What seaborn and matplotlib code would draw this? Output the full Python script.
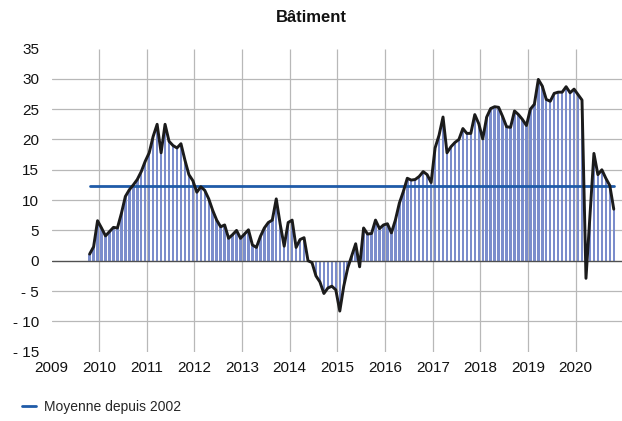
import numpy as np
import pandas as pd
import matplotlib
matplotlib.use("Agg")
import matplotlib.pyplot as plt
import seaborn as sns

# ── Data ─────────────────────────────────────────────────────────────────────
START_YEAR = 2009.80          # first monthly observation, in fractional years
BATIMENT = [
    1.1, 2.3, 6.6, 5.4, 4.1, 4.8, 5.5, 5.4, 7.8, 10.6, 11.7, 12.5,
    13.4, 14.7, 16.4, 17.8, 20.5, 22.5, 17.8, 22.5, 19.7, 19.0, 18.6, 19.3,
    16.6, 14.2, 13.2, 11.3, 12.2, 11.6, 10.2, 8.3, 6.7, 5.6, 5.9, 3.7,
    4.3, 5.0, 3.7, 4.4, 5.1, 2.6, 2.2, 4.0, 5.4, 6.3, 6.7, 10.2,
    6.0, 2.4, 6.3, 6.7, 2.2, 3.5, 3.8, 0.0, -0.3, -2.5, -3.5, -5.4,
    -4.5, -4.2, -4.8, -8.3, -4.2, -1.2, 0.8, 2.8, -1.0, 5.4, 4.4, 4.5,
    6.7, 5.3, 5.9, 6.1, 4.6, 6.7, 9.5, 11.4, 13.6, 13.3, 13.4, 13.9,
    14.7, 14.2, 12.9, 18.6, 20.7, 23.7, 17.8, 18.8, 19.5, 20.0, 21.8, 21.0,
    21.0, 24.1, 22.6, 20.1, 23.7, 25.1, 25.4, 25.3, 23.8, 22.1, 22.0, 24.7,
    24.1, 23.3, 22.3, 25.0, 25.8, 29.9, 28.8, 26.6, 26.3, 27.6, 27.8, 27.8,
    28.7, 27.7, 28.3, 27.4, 26.5, -2.9, 7.4, 17.7, 14.2, 15.0, 13.6, 12.4,
    8.5,
]
MOYENNE = 12.3                # moyenne depuis 2002
YEARS = list(range(2009, 2021))
Y_TICKS = [35, 30, 25, 20, 15, 10, 5, 0, -5, -10, -15]
Y_LABELS = ["35", "30", "25", "20", "15", "10", "5", "0", "- 5", "- 10", "- 15"]

TITLE = "Bâtiment"
LEGEND_LABEL = "Moyenne depuis 2002"

# ── Frame ────────────────────────────────────────────────────────────────────
df = pd.DataFrame({"t": START_YEAR + np.arange(len(BATIMENT)) / 12.0,
                   "val": BATIMENT})

sns.set_theme(style="white")
plt.rcParams["font.family"] = ["Liberation Sans", "DejaVu Sans"]

BAR_COLOR  = "#7b8dcc"
LINE_COLOR = "#1b1b1b"
MEAN_COLOR = "#1f5ba8"
GRID_COLOR = "#b8b8b8"

fig = plt.figure(figsize=(6.22, 4.21), dpi=100)
ax = fig.add_axes([51.5 / 622, 1 - 351.7 / 421, (622 - 51.5) / 622, (351.7 - 48.5) / 421])

# grid
for yv in Y_TICKS[1:-1]:
    if yv != 0:
        ax.axhline(yv, color=GRID_COLOR, lw=0.9, zorder=0)
ax.vlines(YEARS[1:], Y_TICKS[-1], Y_TICKS[0], color=GRID_COLOR, lw=0.9, zorder=0)

# bars + line
sns.barplot(data=df, x="t", y="val", native_scale=True, width=0.62,
            color=BAR_COLOR, saturation=1, edgecolor="none", linewidth=0,
            ax=ax, zorder=2)
ax.axhline(0, color="#505050", lw=1.0, zorder=3)
sns.lineplot(data=df, x="t", y="val", color=LINE_COLOR, lw=2.1, ax=ax, zorder=5)

# mean since 2002
mean_df = pd.DataFrame({"t": [df["t"].iloc[0], df["t"].iloc[-1]],
                        "val": [MOYENNE, MOYENNE]})
sns.lineplot(data=mean_df, x="t", y="val", color=MEAN_COLOR, lw=2.0,
             ax=ax, zorder=4, label=LEGEND_LABEL)

# axes
ax.set_xlim(YEARS[0], YEARS[0] + (622 - 51.5) / 47.65)
ax.set_ylim(Y_TICKS[-1], Y_TICKS[0])
ax.set_xticks(YEARS)
ax.set_xticklabels([str(y) for y in YEARS])
ax.set_yticks(Y_TICKS)
ax.set_yticklabels(Y_LABELS)
ax.tick_params(axis="both", length=0, labelsize=11, colors="#111111")
ax.tick_params(axis="y", pad=9)
ax.tick_params(axis="x", pad=7)
ax.set_xlabel("")
ax.set_ylabel("")
for s in ax.spines.values():
    s.set_visible(False)
ax.grid(False)

fig.suptitle(TITLE, x=0.5, y=1 - 18 / 421, va="center",
             fontsize=12, fontweight="bold", color="#111111")

handles, labels = ax.get_legend_handles_labels()
ax.get_legend().remove()
fig.legend(handles, labels, loc="center left", bbox_to_anchor=(22 / 622, 1 - 407 / 421),
           frameon=False, fontsize=10, handlelength=1.0, handletextpad=0.6,
           borderpad=0, borderaxespad=0)

fig.savefig("out.png", dpi=100)
plt.close(fig)
